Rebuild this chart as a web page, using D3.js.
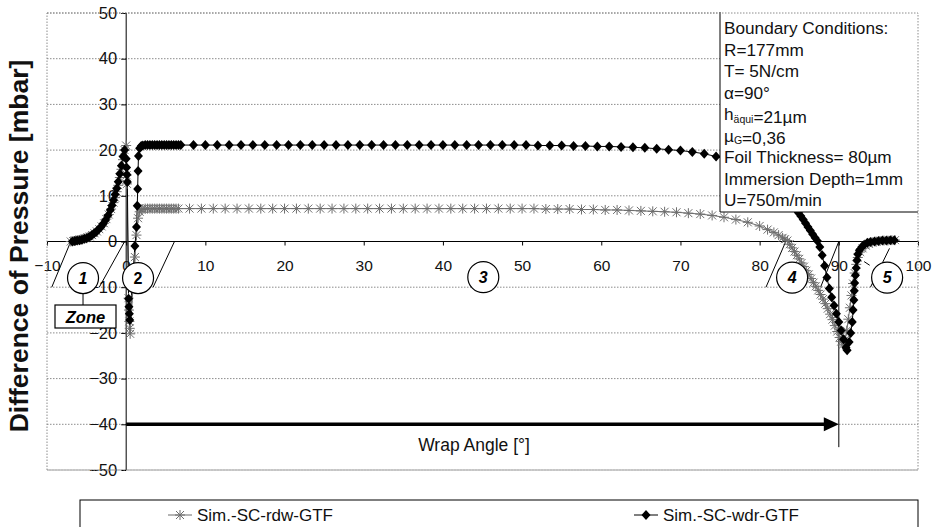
<!DOCTYPE html>
<html>
<head>
<meta charset="utf-8">
<script src="https://cdn.jsdelivr.net/npm/d3@7"></script>
<style>
  body { margin: 0; background: #fff; }
  svg { display: block; font-family: "Liberation Sans", Arial, sans-serif; }
</style>
</head>
<body>
<svg width="932" height="527"></svg>
<script>
// axis ticks
var xTicks = [-10, 0, 10, 20, 30, 40, 50, 60, 70, 80, 90, 100];
var yTicks = [-50, -40, -30, -20, -10, 0, 10, 20, 30, 40, 50];

var seriesNames = ["Sim.-SC-rdw-GTF", "Sim.-SC-wdr-GTF"];

// rdw series (grey asterisks), [wrap angle, pressure]
var rdw = [
  [-7.0,0],[-6.7,0.1],[-6.4,0.2],[-6.1,0.3],[-5.8,0.4],[-5.5,0.5],[-5.2,0.7],[-4.9,0.9],[-4.6,1.1],
  [-4.3,1.4],[-4.0,1.8],[-3.7,2.2],[-3.4,2.7],[-3.1,3.3],[-2.8,4.0],[-2.5,4.9],[-2.2,5.9],[-1.9,7.1],
  [-1.6,8.5],[-1.4,9.6],[-1.2,10.9],[-1.0,12.3],[-0.8,14.0],[-0.6,15.8],[-0.4,17.9],[-0.2,20.0],[0.0,21.0],
  [0.05,14.5],[0.1,12.6],
  [0.3,-12.4],[0.35,-15.0],[0.4,-17.5],[0.45,-19.0],[0.5,-20.2],
  [1.1,-3.4],[1.3,1.4],[1.5,5.1],[1.7,6.5],[1.9,7.0],[2.1,7.1],
  [2.4,7.2],[2.7,7.2],[3.0,7.2],[3.3,7.2],[3.6,7.2],[3.9,7.2],[4.2,7.2],[4.5,7.2],[4.8,7.2],[5.1,7.2],
  [5.4,7.2],[5.7,7.2],[6.0,7.2],[6.3,7.2],[6.6,7.2],
  [8,7.2],[9.5,7.2],[11,7.2],[12.5,7.2],[14,7.2],[15.5,7.2],[17,7.2],[18.5,7.2],[20,7.2],[21.5,7.2],
  [23,7.2],[24.5,7.2],[26,7.2],[27.5,7.2],[29,7.2],[30.5,7.2],[32,7.2],[33.5,7.2],[35,7.2],[36.5,7.2],
  [38,7.2],[39.5,7.2],[41,7.2],[42.5,7.2],[44,7.2],[45.5,7.2],[47,7.2],[48.5,7.2],[50,7.2],[51.5,7.2],
  [53,7.1],[54.5,7.1],[56,7.1],[57.5,7.0],[59,7.0],[60.5,6.9],[62,6.9],[63.5,6.8],[65,6.7],[66.5,6.6],
  [68,6.5],[69.5,6.4],[71,6.2],[72.5,6.0],[74,5.7],[75.5,5.3],[77,4.8],[78.5,4.2],[80,3.4],
  [81,2.6],[81.8,2.0],[82.4,1.4],[82.9,0.8],[83.2,0.5],[83.5,0.2],[83.8,-0.6],[84.1,-1.4],[84.4,-2.2],
  [84.7,-3.0],[85.0,-3.8],[85.3,-4.7],[85.6,-5.5],[85.9,-6.4],[86.2,-7.2],[86.5,-8.1],[86.8,-9.0],
  [87.1,-9.8],[87.4,-10.7],[87.7,-11.6],[88.0,-12.6],[88.3,-13.6],[88.6,-14.7],[88.9,-15.9],[89.2,-17.1],
  [89.5,-18.4],[89.8,-19.7],[90.1,-21.0],[90.3,-21.9],[90.5,-22.6],
  [90.8,-21.5],[91.0,-19.5],[91.2,-17.0],[91.4,-14.5],[91.6,-11.8],[91.8,-9.2],[92.0,-6.9],[92.2,-5.0],
  [92.4,-3.5],[92.7,-2.3],[93.0,-1.5],[93.4,-0.9],[93.8,-0.5],[94.2,-0.2],[94.7,0.0],[95.2,0.1],
  [95.7,0.2],[96.2,0.2],[96.7,0.3],[97.1,0.3]
];

// wdr series (black diamonds)
var wdr = [
  [-6.8,0],[-6.5,0.1],[-6.2,0.2],[-5.9,0.3],[-5.6,0.4],[-5.3,0.6],[-5.0,0.7],[-4.7,1.0],[-4.4,1.3],
  [-4.1,1.7],[-3.8,2.1],[-3.5,2.6],[-3.2,3.2],[-2.9,3.9],[-2.6,4.7],[-2.3,5.7],[-2.0,6.9],[-1.8,7.9],
  [-1.6,9.0],[-1.4,10.3],[-1.2,11.6],[-1.0,13.1],[-0.8,14.8],[-0.6,16.6],[-0.4,18.6],[-0.2,20.0],
  [0.0,18.1],[0.05,16.2],[0.1,14.6],[0.15,13.0],
  [0.3,-12.5],[0.35,-14.3],[0.4,-15.8],[0.45,-17.2],
  [1.1,-1.0],[1.3,3.2],[1.4,7.8],[1.45,11.5],[1.5,15.4],[1.55,18.7],[1.7,20.4],[1.9,20.9],[2.1,21.0],
  [2.4,21.1],[2.7,21.1],[3.0,21.1],[3.3,21.1],[3.6,21.1],[3.9,21.1],[4.2,21.1],[4.5,21.1],[4.8,21.1],
  [5.1,21.1],[5.4,21.1],[5.7,21.1],[6.0,21.1],[6.3,21.1],[6.6,21.1],[6.9,21.1],
  [8.5,21.1],[10,21.1],[11.5,21.1],[13,21.1],[14.5,21.1],[16,21.1],[17.5,21.1],[19,21.1],[20.5,21.1],
  [22,21.1],[23.5,21.1],[25,21.1],[26.5,21.1],[28,21.1],[29.5,21.1],[31,21.1],[32.5,21.1],[34,21.1],
  [35.5,21.1],[37,21.1],[38.5,21.1],[40,21.1],[41.5,21.1],[43,21.1],[44.5,21.1],[46,21.1],[47.5,21.1],
  [49,21.1],[50.5,21.1],[52,21.0],[53.5,21.0],[55,21.0],[56.5,20.9],[58,20.9],[59.5,20.8],[61,20.8],
  [62.5,20.7],[64,20.6],[65.5,20.5],[67,20.3],[68.5,20.1],[70,19.9],[71.5,19.6],[73,19.2],[74.5,18.6],
  [76,17.8],[77.5,16.8],[79,15.5],[80.5,13.9],[81.7,12.2],[82.8,10.3],[83.8,8.4],
  [84.6,7.0],[84.9,6.3],[85.2,5.6],[85.5,4.8],[85.8,4.0],[86.1,3.2],[86.4,2.4],[86.7,1.6],[87.0,0.8],
  [87.3,0.1],[87.6,-1.2],[87.9,-3.0],[88.2,-5.3],[88.5,-7.9],[88.8,-10.3],[89.1,-12.2],[89.4,-14.0],
  [89.7,-15.8],[90.0,-17.6],[90.3,-19.5],[90.6,-21.4],[90.9,-23.2],[91.05,-23.8],
  [91.3,-22.0],[91.5,-20.0],[91.7,-17.6],[91.8,-15.0],[91.9,-12.8],[91.95,-10.8],[92.0,-9.1],[92.1,-7.4],
  [92.2,-5.8],[92.3,-4.1],[92.4,-2.8],[92.6,-1.9],[92.9,-1.2],[93.2,-0.7],[93.6,-0.3],[94.0,-0.1],
  [94.5,0.0],[95.0,0.1],[95.5,0.2],[96.0,0.2],[96.5,0.3],[97.0,0.3]
];

// zone annotation: circle labels and the slanted zone borders (data coords)
var zoneLabels = [
  {t: "1", x: -5.45, y: -8.0, it: true},
  {t: "2", x: 1.5, y: -8.0, it: false},
  {t: "3", x: 45.1, y: -7.8, it: true},
  {t: "4", x: 84.1, y: -7.9, it: true},
  {t: "5", x: 96.1, y: -7.9, it: true}
];
var zoneEdges = [
  [-9.4, -10, -7.0, 0],
  [-3.4, -10, -0.2, 0],
  [3.4, -10, 6.1, 0],
  [80.8, -10, 83.3, 0],
  [87.7, -10, 90.0, 0],
  [94.0, -10, 96.4, -1.5],
  [93.2, -4.4, 93.9, -5.2]
];

var bcLines = [
  "Boundary Conditions:", "R=177mm", "T= 5N/cm", "\u03b1=90\u00b0", "h_{\u00e4qui}=21\u00b5m",
  "\u00b5_{G}=0,36", "Foil Thickness= 80\u00b5m", "Immersion Depth=1mm", "U=750m/min"
];

var svg = d3.select("svg");
var x = d3.scaleLinear().domain([-10, 100]).range([47, 918]);
var y = d3.scaleLinear().domain([-50, 50]).range([470, 13]);

// gridlines
svg.append("g").selectAll("line").data(yTicks).enter().append("line")
  .attr("x1", x(-10)).attr("x2", x(100))
  .attr("y1", function(d) { return y(d); }).attr("y2", function(d) { return y(d); })
  .attr("stroke", "#8c8c8c").attr("stroke-width", 1).attr("stroke-dasharray", "1.5,1.5");

// axes
var yAxis = svg.append("g").attr("transform", "translate(" + x(0) + ",0)")
  .call(d3.axisLeft(y).tickValues(yTicks).tickSize(5).tickPadding(4).tickFormat(d3.format("d")));
var xAxis = svg.append("g").attr("transform", "translate(0," + y(0) + ")")
  .call(d3.axisBottom(x).tickValues(xTicks).tickSize(4).tickSizeOuter(0).tickPadding(14).tickFormat(d3.format("d")));
[xAxis, yAxis].forEach(function(a) {
  a.select(".domain").attr("stroke", "#000");
  a.selectAll(".tick line").attr("stroke", "#000");
  a.selectAll("text").attr("font-family", "'Liberation Sans', Arial, sans-serif").attr("fill", "#111");
});
xAxis.selectAll("text").attr("font-size", 15.5);
yAxis.selectAll("text").attr("font-size", 16.5);
yAxis.select(".domain").attr("d", "M0," + y(50) + "V" + y(-50));
xAxis.select(".domain").attr("d", "M" + x(-10) + ",0H" + x(100));

// zone borders
svg.append("g").selectAll("line").data(zoneEdges).enter().append("line")
  .attr("x1", function(d) { return x(d[0]); }).attr("y1", function(d) { return y(d[1]); })
  .attr("x2", function(d) { return x(d[2]); }).attr("y2", function(d) { return y(d[3]); })
  .attr("stroke", "#000").attr("stroke-width", 1);

// wrap angle arrow
var ay = y(-40);
svg.append("line").attr("x1", x(0)).attr("x2", x(90) - 12).attr("y1", ay).attr("y2", ay)
  .attr("stroke", "#000").attr("stroke-width", 3.5);
svg.append("path").attr("d", "M" + x(90) + "," + ay + "L" + (x(90) - 15) + "," + (ay - 7) + "L" + (x(90) - 15) + "," + (ay + 7) + "Z")
  .attr("fill", "#000");
svg.append("line").attr("x1", x(90)).attr("x2", x(90)).attr("y1", y(0)).attr("y2", y(-45))
  .attr("stroke", "#000").attr("stroke-width", 1);
svg.append("text").attr("x", 474).attr("y", 451).attr("text-anchor", "middle")
  .attr("font-size", 17.5).attr("fill", "#111").text("Wrap Angle [\u00b0]");

// series
var line = d3.line().x(function(d) { return x(d[0]); }).y(function(d) { return y(d[1]); });
svg.append("path").datum(rdw).attr("d", line).attr("fill", "none").attr("stroke", "#6a6a6a").attr("stroke-width", 1);
svg.append("path").datum(wdr).attr("d", line).attr("fill", "none").attr("stroke", "#000").attr("stroke-width", 1);

var starPath = "M-4,-4L4,4M-4,4L4,-4M0,-5L0,5M-5,0L5,0";
var diamondPath = "M0,-5L4.5,0L0,5L-4.5,0Z";

svg.append("g").selectAll("path").data(rdw).enter().append("path")
  .attr("transform", function(d) { return "translate(" + x(d[0]) + "," + y(d[1]) + ")"; })
  .attr("d", starPath).attr("fill", "none").attr("stroke", "#6e6e6e").attr("stroke-width", 1);
svg.append("g").selectAll("path").data(wdr).enter().append("path")
  .attr("transform", function(d) { return "translate(" + x(d[0]) + "," + y(d[1]) + ")"; })
  .attr("d", diamondPath).attr("fill", "#000");

// zone circles
var zg = svg.append("g").selectAll("g").data(zoneLabels).enter().append("g")
  .attr("transform", function(d) { return "translate(" + x(d.x) + "," + y(d.y) + ")"; });
zg.append("circle").attr("r", 15.5).attr("fill", "#fff").attr("stroke", "#000").attr("stroke-width", 1.2);
zg.append("text").attr("text-anchor", "middle").attr("dy", "0.36em")
  .attr("font-size", 16).attr("font-weight", "bold")
  .attr("font-style", function(d) { return d.it ? "italic" : "normal"; })
  .text(function(d) { return d.t; });

// "Zone" tag under circle 1
var c1x = x(zoneLabels[0].x), c1y = y(zoneLabels[0].y);
svg.append("line").attr("x1", c1x).attr("x2", c1x).attr("y1", c1y + 15.5).attr("y2", 305).attr("stroke", "#000");
svg.append("rect").attr("x", 55).attr("y", 305).attr("width", 61).attr("height", 23)
  .attr("fill", "#fff").attr("stroke", "#000").attr("stroke-width", 1.2);
svg.append("text").attr("x", 85.5).attr("y", 322.5).attr("text-anchor", "middle")
  .attr("font-size", 16.5).attr("font-weight", "bold").attr("font-style", "italic").text("Zone");

// boundary conditions box
var bx = 720, by = 12, bw = 198, bh = 200;
svg.append("rect").attr("x", bx).attr("y", by).attr("width", bw).attr("height", bh).attr("fill", "#fff");
svg.append("path").attr("d", "M" + bx + "," + by + "V" + (by + bh) + "H" + (bx + bw))
  .attr("fill", "none").attr("stroke", "#000");
var bt = svg.append("g").attr("font-size", 17.2).attr("fill", "#111");
bcLines.forEach(function(s, i) {
  var t = bt.append("text").attr("x", bx + 4).attr("y", 34 + i * 21.5);
  var parts = s.split(/(_\{[^}]*\})/);
  parts.forEach(function(p) {
    if (!p) return;
    if (p.charAt(0) === "_") {
      t.append("tspan").attr("font-size", 10.5).attr("dy", 2.5).text(p.slice(2, -1));
      t.append("tspan").attr("dy", -2.5).text("");
    } else {
      t.append("tspan").text(p);
    }
  });
});

// plot area border (dotted)
svg.append("rect").attr("x", x(-10)).attr("y", y(50)).attr("width", x(100) - x(-10)).attr("height", y(-50) - y(50))
  .attr("fill", "none").attr("stroke", "#8c8c8c").attr("stroke-dasharray", "1.5,1.5");

// y axis title
svg.append("text").attr("transform", "translate(28,246) rotate(-90)").attr("text-anchor", "middle")
  .attr("font-size", 26.5).attr("font-weight", "bold").attr("fill", "#111")
  .text("Difference of Pressure [mbar]");

// legend
svg.append("rect").attr("x", 80).attr("y", 500).attr("width", 838).attr("height", 40)
  .attr("fill", "#fff").attr("stroke", "#000");
var lg = svg.append("g");
[[180, starPath, "none", "#6e6e6e", "#6a6a6a"], [646, diamondPath, "#000", "none", "#000"]].forEach(function(m, i) {
  lg.append("line").attr("x1", m[0] - 12).attr("x2", m[0] + 12).attr("y1", 515).attr("y2", 515).attr("stroke", m[4]);
  lg.append("path").attr("transform", "translate(" + m[0] + ",515)").attr("d", m[1])
    .attr("fill", m[2]).attr("stroke", m[3]);
  lg.append("text").attr("x", m[0] + 17).attr("y", 521).attr("font-size", 17).attr("fill", "#111")
    .text(seriesNames[i]);
});
</script>
</body>
</html>
